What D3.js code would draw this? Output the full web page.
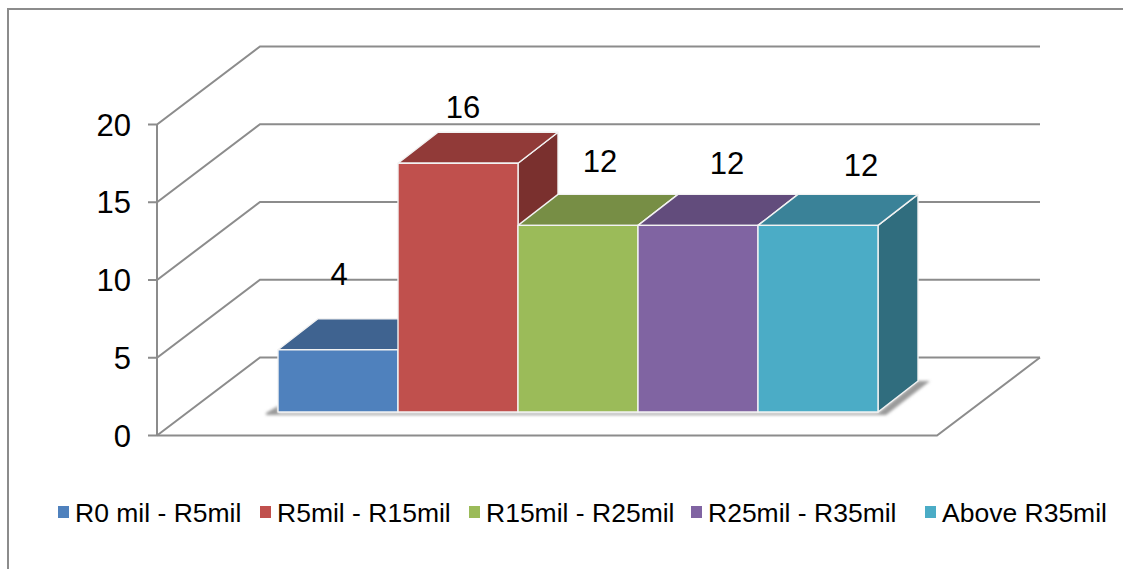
<!DOCTYPE html>
<html><head><meta charset="utf-8">
<script src="https://cdnjs.cloudflare.com/ajax/libs/d3/7.8.5/d3.min.js"></script>
<style>html,body{margin:0;padding:0;background:#fff}svg{display:block}text{font-family:"Liberation Sans",Arial,sans-serif;fill:#000}</style>
</head><body><svg id="c" width="1123" height="569"></svg>
<script>
const categories=["R0 mil - R5mil","R5mil - R15mil","R15mil - R25mil","R25mil - R35mil","Above R35mil"];
const values=[4,16,12,12,12];
const tickValues=[0,5,10,15,20];
const frontColors=["#4f81bd","#c0504d","#9bbb59","#8064a2","#4bacc6"];
const topColors=["#3f6390","#913a38","#778e45","#624c7c","#3a8298"];
const sideColors=["#335277","#7a302e","#627539","#503e66","#306d7e"];
const legendX=[58,260,469,691,925];
const labelPos=[[339,285],[463,118],[600,172],[727,174],[861,176]];

const svg=d3.select("#c");
const grid="#8c8c8c";
const y=d3.scaleLinear().domain([0,20]).range([435.5,124.5]);
const x=d3.scaleBand().domain(categories).range([278,878]).padding(0);
const wall={dx:103,dy:-78};
const bar={dx:40,dy:-31,lift:23.5};
const x0=157;

svg.append("rect").attr("x",8).attr("y",9).attr("width",1130).attr("height",580).attr("fill","none").attr("stroke",grid).attr("stroke-width",2);

const defs=svg.append("defs");
const blur=defs.append("filter").attr("id","sh").attr("x","-10%").attr("y","-50%").attr("width","120%").attr("height","200%");
blur.append("feGaussianBlur").attr("stdDeviation",1.8);

const g=svg.append("g").attr("fill","none").attr("stroke",grid).attr("stroke-width",2);
tickValues.filter(v=>v>0).forEach(v=>{
  const yy=y(v);
  g.append("path").attr("d",`M${x0-9},${yy}H${x0}L${x0+wall.dx},${yy+wall.dy}H1040`);
});
g.append("path").attr("d",`M148,${y(0)}H937L1040,${y(0)+wall.dy}`);
g.append("path").attr("d",`M${x0},${y(0)}L${x0+wall.dx},${y(0)+wall.dy}H1040`);
g.append("line").attr("x1",x0).attr("x2",x0).attr("y1",y(20)).attr("y2",y(0));

const baseY=y(0)-bar.lift;
const xEnd=x(categories[4])+x.bandwidth();
svg.append("path").attr("filter","url(#sh)").attr("fill","#9a9a9a")
 .attr("d",`M266,${baseY+1}L278,${baseY-6}V${baseY+1}H${xEnd}L${xEnd+bar.dx},${baseY+bar.dy}H${xEnd+bar.dx+12}L${xEnd+8},${baseY+3}H266Z`);

const order=d3.range(values.length);
const bars=svg.append("g").attr("stroke","#f2f2f2").attr("stroke-width",1.4).attr("stroke-linejoin","round");
order.forEach(i=>{
  const cat=categories[i],xl=x(cat),w=x.bandwidth(),t=y(values[i])-bar.lift;
  bars.append("path").attr("fill",sideColors[i]).attr("d",`M${xl+w},${baseY}V${t}l${bar.dx},${bar.dy}V${baseY+bar.dy}Z`);
  bars.append("path").attr("fill",topColors[i]).attr("d",`M${xl},${t}l${bar.dx},${bar.dy}h${w}l${-bar.dx},${-bar.dy}Z`);
});
order.forEach(i=>{
  const cat=categories[i],xl=x(cat),w=x.bandwidth(),t=y(values[i])-bar.lift;
  bars.append("rect").attr("x",xl).attr("y",t).attr("width",w).attr("height",baseY-t).attr("fill",frontColors[i]);
});

svg.append("g").selectAll("text").data(tickValues).join("text")
 .attr("x",131).attr("y",d=>y(d)+11).attr("text-anchor","end").attr("font-size","31px").text(d=>d);
svg.append("g").selectAll("text").data(values).join("text")
 .attr("x",(d,i)=>labelPos[i][0]).attr("y",(d,i)=>labelPos[i][1]).attr("text-anchor","middle").attr("font-size","31px").text(d=>d);

const lg=svg.append("g");
categories.forEach((c,i)=>{
  lg.append("rect").attr("x",legendX[i]).attr("y",506).attr("width",11).attr("height",12).attr("fill",frontColors[i]);
  lg.append("text").attr("x",legendX[i]+17).attr("y",522).attr("font-size","26.5px").text(c);
});
</script></body></html>
